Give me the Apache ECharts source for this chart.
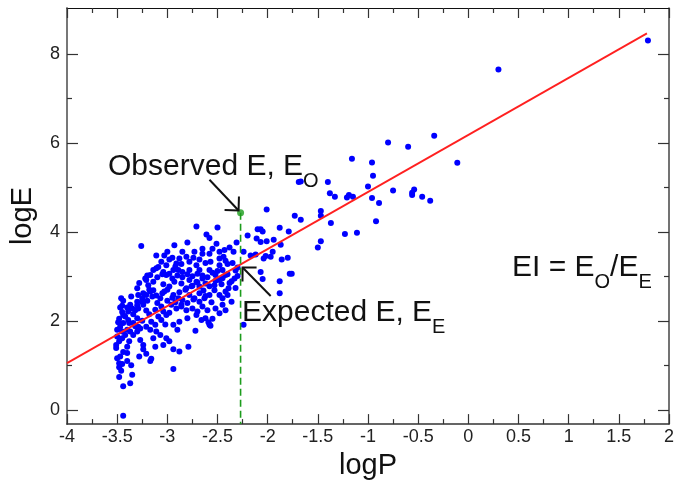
<!DOCTYPE html>
<html><head><meta charset="utf-8">
<script src="https://cdn.jsdelivr.net/npm/echarts@6/dist/echarts.min.js"></script>
<style>html,body{margin:0;padding:0;background:#fff}#c{width:677px;height:485px}</style>
</head><body><div id="c"></div>
<script>
// ---- data ----
const xRange = [-4, 2];
const yRange = [-0.32, 9.03];
const yMajorTicks = [0, 2, 4, 6, 8];
const yMinorTicks = [1, 3, 5, 7];
const points = [
 [1.79,8.30],[0.30,7.65],[-0.34,6.16],[-0.80,6.01],[-0.60,5.91],[-0.11,5.55],[-1.16,5.64],[-0.96,5.56],[-0.95,5.26],[-1.00,5.02],
 [-1.40,5.12],[-1.69,5.12],[-1.67,5.13],[-1.38,4.87],[-1.33,4.79],[-1.21,4.77],[-1.19,4.83],[-1.15,4.79],[-0.96,4.76],[-0.89,4.65],
 [-0.75,4.93],[-0.54,4.95],[-0.56,4.88],[-0.56,4.83],[-0.46,4.79],[-0.38,4.70],[-1.73,4.36],[-1.67,4.27],[-1.47,4.47],[-1.47,4.36],
 [-1.37,4.20],[-1.23,3.95],[-1.11,3.98],[-0.92,4.24],[-1.47,3.79],[-1.50,3.65],[-1.76,3.06],
 [-2.01,4.50],[-2.71,4.12],[-2.50,4.10],[-2.61,3.94],[-2.58,3.86],[-3.26,3.68],[-2.93,3.70],[-2.80,3.76],[-2.51,3.73],
 [-2.31,3.76],[-2.24,3.55],[-2.10,4.06],[-2.07,4.06],[-2.05,4.01],[-2.20,3.92],[-2.01,3.79],[-1.94,3.82],[-1.87,3.71],[-2.11,3.85],
 [-2.07,3.77],[-1.88,4.09],[-1.79,4.01],[-2.17,3.47],[-2.12,3.49],[-2.04,3.40],[-2.02,3.46],[-1.95,3.55],[-1.97,3.44],[-1.86,3.38],
 [-1.80,3.42],[-1.78,3.06],[-1.88,2.89],[-2.07,3.10],[-2.05,2.94],[-1.88,2.62],[-2.24,1.91],[-2.32,2.74],[-2.36,2.89],[-2.30,3.01],
 [-2.32,3.13],[-2.40,3.28],[-2.34,3.55],[-2.43,3.59],[-2.38,3.65],[-2.36,2.43],[-2.42,2.24],[-2.45,2.51],[-2.57,1.89],[-2.59,1.97],
 [-2.79,1.42],[-2.88,1.31],[-2.94,1.36],[-2.94,0.92],[-3.16,1.15],[-3.17,1.10],[-3.21,1.26],[-3.24,1.36],[-3.35,0.79],[-3.37,0.60],
 [-3.44,0.53],[-3.48,0.74],[-3.48,0.96],[-3.45,1.03],[-3.48,1.05],[-3.50,1.16],[-3.47,1.20],[-3.40,1.28],[-3.40,1.42],[-3.51,1.39],
 [-3.51,1.46],[-3.48,1.54],[-3.45,1.61],[-3.42,1.68],[-3.38,1.54],[-3.34,1.68],[-3.30,1.76],[-3.27,1.83],[-3.49,1.97],[-3.47,1.87],
 [-3.44,1.95],[-3.42,2.10],[-3.44,2.13],[-3.39,2.02],[-3.46,2.51],[-3.45,2.34],[-3.34,2.15],[-3.32,2.24],[-3.35,2.28],[-3.29,2.28],
 [-3.24,2.36],[-3.21,2.23],[-3.30,2.73],[-3.29,2.58],[-3.24,2.62],[-3.21,2.58],[-3.17,2.66],[-3.14,2.69],[-3.11,2.57],[-3.07,2.51],
 [-3.22,2.95],[-3.21,2.92],[-3.14,3.14],[-3.11,3.18],[-3.09,3.21],[-3.11,3.47],[-3.04,3.10],[-3.01,3.03],[-2.98,3.06],[-2.91,3.29],
 [-2.94,3.14],[-2.89,3.14],[-2.85,3.10],[-2.78,3.14],[-2.78,3.33],[-2.71,3.25],[-2.68,3.14],[-2.73,3.55],[-2.65,3.51],[-2.58,3.51],
 [-2.57,3.33],[-2.48,3.55],[-2.44,3.44],[-2.58,3.14],[-2.52,3.03],[-2.48,2.92],[-2.53,2.80],[-2.65,2.95],[-2.62,2.84],[-2.71,2.88],
 [-2.68,2.77],[-2.78,2.92],[-2.75,2.79],[-2.81,2.73],[-2.86,2.84],[-2.93,2.88],[-2.98,2.77],[-3.04,2.82],[-3.03,2.66],[-2.94,2.58],
 [-2.89,2.51],[-2.85,2.47],[-2.78,2.58],[-2.73,2.51],[-2.68,2.43],[-2.63,2.51],[-2.58,2.58],[-2.53,2.69],[-2.48,2.58],[-2.96,2.36],
 [-2.91,2.28],[-2.86,2.32],[-2.81,2.24],[-2.75,2.28],[-2.70,2.21],[-2.65,2.32],[-2.60,2.24],[-3.04,2.21],[-3.01,2.13],[-3.09,2.10],
 [-3.06,2.02],[-3.16,1.98],[-3.12,1.91],[-3.21,1.87],[-3.17,1.80],[-3.11,1.76],[-3.07,1.68],[-3.14,1.61],[-2.94,1.91],[-2.88,1.98],
 [-2.80,2.06],[-2.71,2.13],[-2.58,1.91],[-2.62,2.06],[-3.01,1.61],[-3.04,1.46],[-2.98,1.54],[-3.24,1.46],[-3.27,1.57],[-3.12,1.42],
 [-2.52,2.28],[-2.45,2.36],[-2.48,2.17],[-2.40,2.58],[-2.39,2.73],[-2.42,3.03],[-2.45,3.14],[-2.48,3.25],[-2.85,3.55],[-2.81,3.44],
 [-2.88,3.40],[-3.01,3.25],[-3.06,3.33],[-3.03,3.47],[-3.14,2.88],[-3.17,3.03],[-3.19,2.80],[-3.30,2.43],[-3.25,2.43],[-3.37,2.36],
 [-3.39,2.21],[-3.30,2.06],[-3.34,1.95],[-3.29,1.87],[-3.40,1.80],[-3.37,1.76],[-3.45,1.76],[-3.44,-0.13],
 [-3.20,2.45],[-3.15,2.55],[-3.10,2.40],[-3.05,2.62],[-3.00,2.70],[-2.95,2.95],[-2.90,3.02],[-2.85,2.98],[-2.80,3.05],[-2.75,3.00],
 [-2.70,3.06],[-2.65,3.02],[-2.60,2.98],[-2.55,3.08],[-2.50,3.12],[-2.45,2.96],[-2.40,3.05],[-2.62,3.30],[-2.68,3.38],[-2.74,3.42],
 [-2.86,3.28],[-2.92,3.22],[-2.98,3.38],[-3.05,3.05],[-3.10,2.98],[-3.18,2.70],[-3.25,2.50],[-3.30,2.35],[-3.40,2.30],[-3.45,2.20],
 [-3.48,2.05],[-3.38,1.95],[-3.32,1.88],[-3.25,2.00],[-3.18,2.15],[-3.12,2.25],[-3.06,2.32],[-3.00,2.45],[-2.95,2.52],[-2.88,2.64],
 [-2.82,2.70],[-2.76,2.78],[-2.70,2.86],[-2.64,2.68],[-2.58,2.78],[-2.52,2.90],[-2.46,2.82],[-2.42,2.66],[-2.56,2.42],[-2.62,2.56],
 [-2.68,2.62],[-2.74,2.48],[-2.80,2.40],[-2.86,2.36],[-2.92,2.42],[-2.98,2.18],[-3.02,1.92],[-2.90,1.80],[-2.72,1.78],[-2.66,2.02],
 [-2.55,2.05],[-3.44,1.30],[-3.40,1.10],[-3.36,1.00],[-3.28,1.20],[-3.46,0.88],[-3.50,1.65],[-3.50,1.80],[-3.47,2.30],[-3.44,2.45],
 [-3.36,2.55],[-3.28,2.85],[-3.20,3.02],[-3.00,3.55],[-2.95,3.42],[-2.65,3.62],[-2.55,3.62],[-2.48,3.40],[-2.42,3.35],[-2.35,3.30],
 [-2.30,3.20],[-2.33,2.95],[-2.38,2.85]
];
const fitLogP = [-4, 1.78];
const fitLogE = [1.05, 8.46];
const observedLogP = -2.27;
const observedLogE = 4.43;
// arrow anchors in data units: [start, tip]
const observedArrow = [[-2.58, 5.17], [-2.29, 4.48]];
const expectedArrow = [[-1.97, 2.56], [-2.25, 3.20]];

const FONT = 'Liberation Sans, Arial, Helvetica, sans-serif';
const chart = echarts.init(document.getElementById('c'), null, {renderer: 'canvas'});

const tickStyle = {color: '#333', width: 1.2};
function xAxisCfg(pos, labels) {
  return {
    type: 'value', position: pos, min: xRange[0], max: xRange[1], interval: 0.5,
    axisLine: {show: true, onZero: false, lineStyle: {color: pos === 'bottom' ? '#333' : '#111', width: pos === 'bottom' ? 1.5 : 1}},
    axisTick: {show: true, inside: true, length: 10, lineStyle: tickStyle},
    minorTick: {show: true, splitNumber: 2, length: 5, lineStyle: tickStyle},
    axisLabel: {show: labels, fontSize: 18, color: '#222', margin: 4, fontFamily: FONT},
    splitLine: {show: false},
    name: labels ? 'logP' : '', nameLocation: 'middle', nameGap: 26,
    nameTextStyle: {fontSize: 29, color: '#111', fontFamily: FONT}
  };
}
function yAxisCfg(pos, ticks, len, labels, line) {
  return {
    type: 'value', position: pos, min: yRange[0], max: yRange[1],
    axisLine: {show: line, onZero: false, lineStyle: {color: pos === 'left' ? '#777' : '#444', width: pos === 'left' ? 2 : 1.5}},
    axisTick: {show: true, inside: true, length: len, customValues: ticks, lineStyle: tickStyle},
    axisLabel: {show: labels, customValues: ticks, fontSize: 18, color: '#222', margin: 7, fontFamily: FONT},
    splitLine: {show: false},
    name: labels ? 'logE' : '', nameLocation: 'middle', nameGap: 30, nameRotate: 90,
    nameTextStyle: {fontSize: 29, color: '#111', fontFamily: FONT}
  };
}

chart.setOption({
  animation: false,
  backgroundColor: '#fff',
  grid: {left: 62.5, right: 4.3, top: 8, bottom: 59, containLabel: false},
  xAxis: [xAxisCfg('bottom', true), xAxisCfg('top', false)],
  yAxis: [
    yAxisCfg('left', yMajorTicks, 11, true, true),
    yAxisCfg('left', yMinorTicks, 5, false, false),
    yAxisCfg('right', yMajorTicks, 11, false, true),
    yAxisCfg('right', yMinorTicks, 5, false, false)
  ],
  series: [
    {type: 'scatter', data: points, symbolSize: 6, itemStyle: {color: '#0000ff', opacity: 1}, z: 2},
    {type: 'line', data: [[fitLogP[0], fitLogE[0]], [fitLogP[1], fitLogE[1]]], showSymbol: false, symbol: 'none',
     lineStyle: {color: '#ff2020', width: 1.8}, z: 3},
    {type: 'line', data: [[observedLogP, observedLogE], [observedLogP, yRange[0]]], symbol: 'none',
     lineStyle: {color: '#1c9c1c', width: 1.6, type: [7, 4]}, z: 4},
    {type: 'scatter', data: [[observedLogP, observedLogE]], symbolSize: 7, itemStyle: {color: '#1c9c1c'}, z: 5}
  ]
});

function px(p) { return chart.convertToPixel({xAxisIndex: 0, yAxisIndex: 0}, p); }
function arrow(a) {
  const s = px(a[0]), t = px(a[1]);
  const dx = s[0] - t[0], dy = s[1] - t[1], L = Math.hypot(dx, dy);
  const ux = dx / L, uy = dy / L, len = 14, ang = 45 * Math.PI / 180;
  const r = (c, sn) => [t[0] + len * (ux * c - uy * sn), t[1] + len * (ux * sn + uy * c)];
  const a1 = r(Math.cos(ang), Math.sin(ang)), a2 = r(Math.cos(-ang), Math.sin(-ang));
  const st = {stroke: '#111', lineWidth: 2, fill: null};
  return [
    {type: 'polyline', shape: {points: [s, t]}, style: st, z: 10},
    {type: 'polyline', shape: {points: [a1, t, a2]}, style: st, z: 10}
  ];
}
const rich = {
  m: {fontSize: 30, lineHeight: 30, verticalAlign: 'top', fontFamily: FONT, fill: '#111'},
  s: {fontSize: 20, lineHeight: 20, verticalAlign: 'top', padding: [19, 0, 0, 0], fontFamily: FONT, fill: '#111'}
};
function label(x, y, text) {
  return {type: 'text', x: x, y: y, z: 10, style: {text: text, rich: rich, align: 'left', verticalAlign: 'top', fill: '#111'}};
}
chart.setOption({
  graphic: [].concat(
    arrow(observedArrow), arrow(expectedArrow),
    [label(108, 152, '{m|Observed E, E}{s|O}'),
     label(242, 298, '{m|Expected E, E}{s|E}'),
     label(512, 253, '{m|EI = E}{s|O}{m|/E}{s|E}')]
  )
});
</script></body></html>
